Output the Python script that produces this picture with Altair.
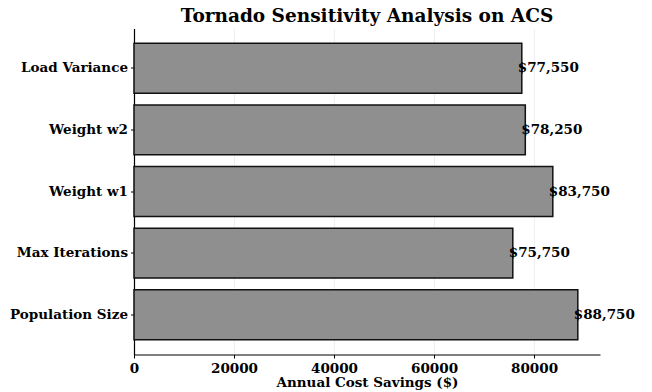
import altair as alt
import pandas as pd

# Sensitivity parameters (top to bottom) and their annual cost savings
parameters = ["Load Variance", "Weight w2", "Weight w1", "Max Iterations", "Population Size"]
savings = [77550, 78250, 83750, 75750, 88750]
x_ticks = [0, 20000, 40000, 60000, 80000]

df = pd.DataFrame({"parameter": parameters, "savings": savings})
df["label"] = ["$" + format(v, ",") for v in savings]

FONT = "DejaVu Serif"
x_max = max(savings) * 1.05

y_enc = alt.Y(
    "parameter:N",
    sort=parameters,
    title=None,
    scale=alt.Scale(paddingInner=0.19, paddingOuter=0.24),
    axis=alt.Axis(
        labelFont=FONT, labelFontWeight="bold", labelFontSize=13.5, labelColor="black",
        labelPadding=3, tickSize=3.5, tickColor="black", domainColor="black",
        domainWidth=1.2, tickWidth=1, grid=False,
    ),
)

x_enc = alt.X(
    "savings:Q",
    title="Annual Cost Savings ($)",
    scale=alt.Scale(domain=[0, x_max], nice=False, zero=True),
    axis=alt.Axis(
        values=x_ticks, format="d", labelFont=FONT, labelFontWeight="bold",
        labelFontSize=13.5, labelColor="black", labelFlush=False,
        titleFont=FONT, titleFontWeight="bold",
        titleFontSize=13.5, titleColor="black", titlePadding=1, tickSize=3.5,
        tickColor="black", domainColor="black", domainWidth=1.2, labelPadding=3,
        grid=True, gridColor="#b0b0b0", gridOpacity=0.25, gridWidth=0.8,
    ),
)

bars = alt.Chart(df).mark_bar(
    color="#8f8f8f", stroke="#111111", strokeWidth=1.5
).encode(x=x_enc, y=y_enc)

labels = alt.Chart(df).mark_text(
    align="left", baseline="middle", dx=-4, font=FONT, fontWeight="bold",
    fontSize=13.5, color="black"
).encode(x="savings:Q", y=alt.Y("parameter:N", sort=parameters), text="label:N")

chart = (
    alt.layer(bars, labels)
    .properties(
        width=466,
        height=326,
        autosize=alt.AutoSizeParams(type="none"),
        padding={"left": 134, "top": 28.5, "right": 52, "bottom": 37.5},
        title=alt.TitleParams(
            "Tornado Sensitivity Analysis on ACS", font=FONT, fontWeight="bold",
            fontSize=18.5, color="black", anchor="middle", offset=3,
        ),
    )
    .configure_view(stroke=None)
)

chart.save("out.html", embed_options={"renderer": "svg", "actions": False})
